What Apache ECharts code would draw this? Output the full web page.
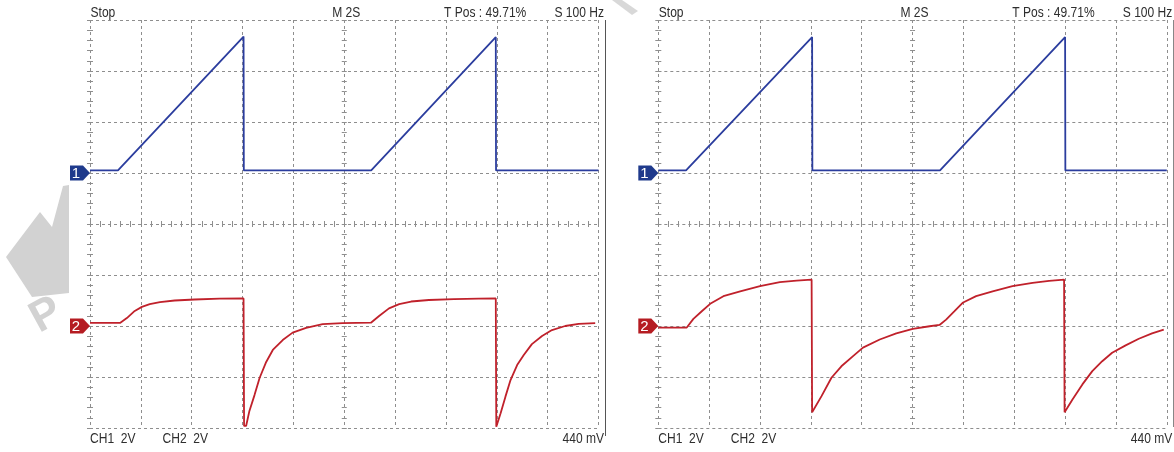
<!DOCTYPE html>
<html><head><meta charset="utf-8">
<script src="https://cdn.jsdelivr.net/npm/echarts@6/dist/echarts.min.js"></script>
<style>html,body{margin:0;padding:0;background:#fff}#c{width:1174px;height:452px}</style>
</head><body><div id="c"></div>
<script>
// ---- data (time in s, voltage in V) ----
const timeMin = 0, timeMax = 20, timePerDiv = 2;   // M 2S
const ch1VoltsPerDiv = 2, ch2VoltsPerDiv = 2;      // CH1 2V, CH2 2V
const ch1OffsetDiv = 1, ch2OffsetDiv = -2;         // ground markers 1 and 2

const topLabels = ['Stop', 'M 2S', 'T Pos : 49.71%', 'S 100 Hz'];
const bottomLabels = ['CH1  2V', 'CH2  2V', '440 mV'];
const markerLabels = ['1', '2'];

// Left screenshot
const scopeA_ch1 = [[0,0.1],[1.10,0.1],[6.04,5.35],[6.05,0.1],[11.06,0.1],[15.96,5.33],[15.97,0.1],[20,0.1]];
const scopeA_ch2 = [[0,0.12],[1.18,0.12],[1.45,0.31],[1.76,0.59],[2.04,0.75],[2.35,0.86],[2.75,0.94],[3.33,1.00],[4.12,1.04],[5.10,1.07],[6.04,1.08],
  [6.06,-3.92],[6.14,-3.92],[6.27,-3.33],[6.47,-2.71],[6.67,-2.04],[6.93,-1.41],[7.19,-0.94],[7.58,-0.55],[7.97,-0.26],[8.50,-0.07],[9.15,0.07],[9.93,0.11],[11.05,0.13],
  [11.37,0.39],[11.76,0.69],[12.16,0.86],[12.63,0.96],[13.33,1.02],[14.31,1.05],[15.29,1.07],[15.96,1.08],
  [15.98,-3.95],[16.01,-3.95],[16.15,-3.42],[16.34,-2.77],[16.54,-2.12],[16.80,-1.53],[17.06,-1.14],[17.38,-0.71],[17.78,-0.39],[18.17,-0.16],[18.69,0.00],[19.22,0.08],[19.87,0.11]];

// Right screenshot
const scopeB_ch1 = [[0,0.1],[1.09,0.1],[6.05,5.33],[6.06,0.1],[11.08,0.1],[16.0,5.33],[16.01,0.1],[20,0.1]];
const scopeB_ch2 = [[0,-0.06],[1.12,-0.06],[1.38,0.28],[1.71,0.58],[2.04,0.87],[2.56,1.17],[3.22,1.36],[4.00,1.56],[4.78,1.72],[5.44,1.78],[6.03,1.82],
  [6.05,-3.38],[6.09,-3.38],[6.42,-2.75],[6.81,-2.03],[7.20,-1.58],[7.66,-1.18],[8.05,-0.85],[8.71,-0.53],[9.36,-0.29],[10.01,-0.11],[10.67,-0.01],[11.06,0.04],
  [11.32,0.25],[11.65,0.58],[11.97,0.91],[12.50,1.17],[13.15,1.36],[13.93,1.56],[14.72,1.69],[15.37,1.77],[15.96,1.82],
  [15.98,-3.38],[16.03,-3.34],[16.29,-2.88],[16.68,-2.29],[17.07,-1.77],[17.46,-1.38],[17.85,-1.05],[18.38,-0.76],[18.90,-0.50],[19.42,-0.29],[19.88,-0.14]];

// ---- layout / style ----
const panels = [
  {left: 90, top: 20, width: 508.5, height: 408, ch1: scopeA_ch1, ch2: scopeA_ch2, borderBottom: 436},
  {left: 658.3, top: 20, width: 508.5, height: 408, ch1: scopeB_ch1, ch2: scopeB_ch2, borderBottom: 427}
];
const BLUE = '#2b3d9e', RED = '#c0212b', MARK_BLUE = '#1f3a8c', MARK_RED = '#b51c22';
const GRID_COLOR = '#8e8e8e', TEXT_COLOR = '#2e2e2e';
const FONT = '14px "Liberation Sans", Arial, sans-serif';

const chart = echarts.init(document.getElementById('c'), null, {renderer: 'canvas'});
const tickStyle = {color: GRID_COLOR, width: 1};
const grid = [], xAxis = [], yAxis = [], series = [];
const axisRefs = [];

function baseAxis(extra) {
  return Object.assign({
    type: 'value',
    axisLine: {show: false},
    axisLabel: {show: false},
    axisTick: {show: true, inside: true, length: 3, lineStyle: tickStyle},
    minorTick: {show: true, splitNumber: 5, length: 3, lineStyle: tickStyle},
    splitLine: {show: false},
    minorSplitLine: {show: false}
  }, extra);
}
const dashed = {show: true, lineStyle: {color: GRID_COLOR, type: [3, 3], width: 1}};

panels.forEach((p, i) => {
  const g0 = grid.length;
  for (let k = 0; k < 3; k++) grid.push({left: p.left, top: p.top, width: p.width, height: p.height});
  const xi = xAxis.length, yi = yAxis.length;
  xAxis.push(baseAxis({gridIndex: g0, min: timeMin, max: timeMax, interval: timePerDiv, position: 'bottom', splitLine: dashed}));
  xAxis.push(baseAxis({gridIndex: g0, min: timeMin, max: timeMax, interval: timePerDiv, position: 'top'}));
  yAxis.push(baseAxis({gridIndex: g0, min: -4, max: 4, interval: 1, position: 'left', splitLine: dashed}));
  yAxis.push(baseAxis({gridIndex: g0, min: -4, max: 4, interval: 1, position: 'right'}));
  [true, false].forEach((inside, k) => {
    xAxis.push(baseAxis({gridIndex: g0 + 1 + k, min: -10, max: 10, interval: 2, position: 'bottom',
      axisLine: {show: false, onZero: true}, axisTick: {show: true, inside, length: 2.5, lineStyle: tickStyle},
      minorTick: {show: true, splitNumber: 5, length: 2.5, lineStyle: tickStyle}}));
    yAxis.push(baseAxis({gridIndex: g0 + 1 + k, min: -4, max: 4, interval: 1, position: 'left',
      axisLine: {show: false, onZero: true}, axisTick: {show: true, inside, length: 2.5, lineStyle: tickStyle},
      minorTick: {show: true, splitNumber: 5, length: 2.5, lineStyle: tickStyle}}));
  });
  axisRefs.push({xi, yi});
  series.push({type: 'line', xAxisIndex: xi, yAxisIndex: yi, showSymbol: false, symbol: 'none', silent: true,
    lineStyle: {color: BLUE, width: 1.8}, z: 5,
    data: p.ch1.map(([t, v]) => [t, v / ch1VoltsPerDiv + ch1OffsetDiv])});
  series.push({type: 'line', xAxisIndex: xi, yAxisIndex: yi, showSymbol: false, symbol: 'none', silent: true,
    lineStyle: {color: RED, width: 1.8}, z: 5,
    data: p.ch2.map(([t, v]) => [t, v / ch2VoltsPerDiv + ch2OffsetDiv])});
});

chart.setOption({animation: false, backgroundColor: '#fff', grid, xAxis, yAxis, series});

const graphic = [];
graphic.push({type: 'polygon', silent: true, z: 0,
  shape: {points: [[63,186],[69,185],[69,293],[32,297],[6,257],[40,212],[52,227]]}, style: {fill: '#d2d2d2'}});
graphic.push({type: 'text', silent: true, z: 0, x: 44, y: 342, rotation: 0.5,
  style: {text: 'P', font: 'bold 44px "Liberation Sans", Arial', fill: '#d2d2d2', textAlign: 'left', textVerticalAlign: 'bottom'}});
graphic.push({type: 'polygon', silent: true, z: 0,
  shape: {points: [[612,0],[622,0],[638,11],[632,15]]}, style: {fill: '#d8d8d8'}});

function label(text, x, y, align) {
  return {type: 'text', silent: true, z: 10, x, y, scaleX: 0.86,
    style: {text, font: FONT, fill: TEXT_COLOR, textAlign: align, textVerticalAlign: 'middle'}};
}
panels.forEach((p, i) => {
  const L = p.left, R = p.left + p.width;
  graphic.push(label(topLabels[0], L + 0.5, 13.5, 'left'));
  graphic.push(label(topLabels[1], L + p.width / 2 + 2, 13.5, 'center'));
  graphic.push(label(topLabels[2], L + 354, 13.5, 'left'));
  graphic.push(label(topLabels[3], R + 5.5, 13.5, 'right'));
  graphic.push(label(bottomLabels[0], L, 439, 'left'));
  graphic.push(label(bottomLabels[1], L + 72.5, 439, 'left'));
  graphic.push(label(bottomLabels[2], R + 5.5, 439, 'right'));
  graphic.push({type: 'line', silent: true, z: 10, shape: {x1: R + 7, y1: 20, x2: R + 7, y2: p.borderBottom},
    style: {stroke: '#555', lineWidth: 1}});
  const refs = axisRefs[i];
  [[ch1OffsetDiv, MARK_BLUE, markerLabels[0]], [ch2OffsetDiv, MARK_RED, markerLabels[1]]].forEach(([off, col, txt]) => {
    const pt = chart.convertToPixel({xAxisIndex: refs.xi, yAxisIndex: refs.yi}, [timeMin, off]);
    const x = pt[0], y = pt[1];
    graphic.push({type: 'polygon', silent: true, z: 11,
      shape: {points: [[x - 20, y - 7.5], [x - 7, y - 7.5], [x, y], [x - 7, y + 7.5], [x - 20, y + 7.5]]},
      style: {fill: col}});
    graphic.push({type: 'text', silent: true, z: 12, x: x - 14, y: y + 0.5,
      style: {text: txt, font: '15px "Liberation Sans", Arial', fill: '#fff', textAlign: 'center', textVerticalAlign: 'middle'}});
  });
});
chart.setOption({graphic});
</script>
</body></html>
